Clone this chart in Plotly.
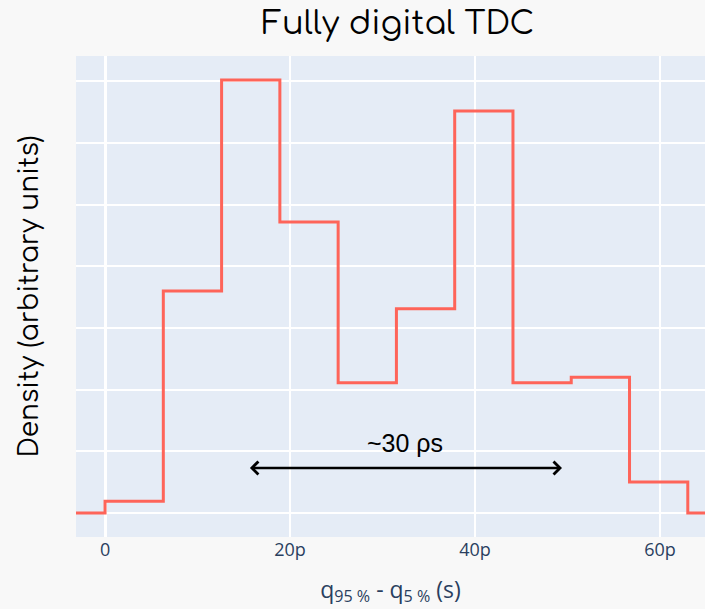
import plotly.graph_objects as go

# bin edges in picoseconds (10 bins from 0 to 63 ps)
bin_edges_ps = [0, 6.3, 12.6, 18.9, 25.2, 31.5, 37.8, 44.1, 50.4, 56.7, 63.0]
density = [0.19, 3.60, 7.02, 4.72, 2.11, 3.31, 6.52, 2.11, 2.20, 0.50]

x_range_ps = [-3.14, 64.86]
y_range = [-0.39, 7.41]

arrow_start_ps = 15.5
arrow_end_ps = 49.4
arrow_y = 0.73
label_text = "~30 ρs"

# step outline: leading and trailing zero segments
xs = [x_range_ps[0] - 5] + bin_edges_ps + [x_range_ps[1] + 5]
ys = [0] + density + [0, 0]
xs_s = [v * 1e-12 for v in xs]

fig = go.Figure()
fig.add_trace(go.Scatter(
    x=xs_s, y=ys, mode="lines", line=dict(shape="hv", color="#fe6459", width=3),
    showlegend=False, hoverinfo="skip",
))

fig.add_annotation(
    x=arrow_end_ps * 1e-12, y=arrow_y, ax=arrow_start_ps * 1e-12, ay=arrow_y,
    xref="x", yref="y", axref="x", ayref="y", text="", showarrow=True,
    arrowhead=4, startarrowhead=4, arrowside="end+start", arrowwidth=2.5,
    arrowsize=1, startarrowsize=1, arrowcolor="black",
)
fig.add_annotation(
    x=(arrow_start_ps + arrow_end_ps) / 2 * 1e-12, y=arrow_y, xref="x", yref="y",
    text=label_text, showarrow=False, yshift=25,
    font=dict(family="Liberation Sans, Arial", size=25, color="black"),
)

fig.update_layout(
    width=705, height=609,
    margin=dict(l=76, r=0, t=56, b=72),
    paper_bgcolor="#f8f8f8", plot_bgcolor="#e5ecf6",
    title=dict(text="Fully digital TDC", x=0.512, xref="paper", xanchor="center",
               y=0.962, yanchor="middle",
               font=dict(family="Comfortaa, Lato", size=32, color="black")),
    xaxis=dict(
        range=[v * 1e-12 for v in x_range_ps], tickmode="linear", tick0=0, dtick=20e-12,
        exponentformat="SI", gridcolor="white", gridwidth=1.5,
        zeroline=True, zerolinecolor="white", zerolinewidth=2.5,
        tickfont=dict(family="Open Sans", size=18, color="#2a3f5f"),
        title=dict(text="q<sub>95 %</sub> - q<sub>5 %</sub> (s)",
                   font=dict(family="Open Sans", size=23, color="#2a3f5f"), standoff=21),
        showline=False, ticks="",
    ),
    yaxis=dict(
        range=y_range, tickmode="linear", tick0=0, dtick=1, showticklabels=False,
        gridcolor="white", gridwidth=1.5, zeroline=True, zerolinecolor="white", zerolinewidth=2,
        title=dict(text="Density (arbitrary units)",
                   font=dict(family="Comfortaa, Lato", size=26.5, color="black"), standoff=28),
        ticks="",
    ),
)

fig.write_html("out.html")
